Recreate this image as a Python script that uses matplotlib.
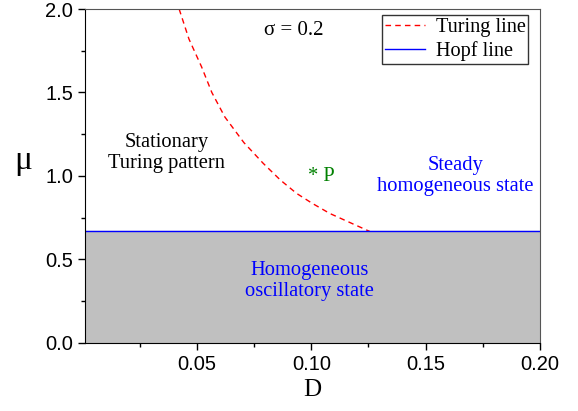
import matplotlib
matplotlib.use("Agg")
import matplotlib.pyplot as plt
from matplotlib.ticker import MultipleLocator

# Turing line
turing_D = [0.0422, 0.0465, 0.052, 0.0565, 0.0622, 0.0705, 0.079, 0.0865, 0.0936, 0.1005, 0.1081, 0.117, 0.1256]
turing_mu = [2.0, 1.82, 1.654, 1.5, 1.353, 1.2, 1.075, 0.975, 0.895, 0.835, 0.775, 0.72, 0.667]

# Hopf line (horizontal)
hopf_D = [0.001, 0.2]
hopf_mu = [0.667, 0.667]

point_P = (0.0985, 0.995)

serif = "Liberation Serif"
sans = "Liberation Sans"
fs = 14.8

fig, ax = plt.subplots(figsize=(5.78, 4.11), dpi=100)
fig.subplots_adjust(left=0.147, right=0.934, top=0.978, bottom=0.166)

ax.fill_between(hopf_D, 0, hopf_mu, color="#c0c0c0", zorder=0)
ax.plot(turing_D, turing_mu, "r--", lw=1.0, dashes=(4, 3), label="Turing line")
ax.plot(hopf_D, hopf_mu, color="blue", lw=1.0, label="Hopf line")

ax.set_xlim(0.001, 0.2)
ax.set_ylim(0, 2.0)
ax.xaxis.set_minor_locator(MultipleLocator(0.025))
ax.yaxis.set_major_locator(MultipleLocator(0.5))
ax.yaxis.set_minor_locator(MultipleLocator(0.25))
ax.set_xticks([0.05, 0.10, 0.15, 0.20])
ax.set_xticklabels(["0.05", "0.10", "0.15", "0.20"])
ax.tick_params(which="major", direction="out", length=5, width=1, labelsize=14.5)
ax.tick_params(which="minor", direction="out", length=3, width=1)
for lab in ax.get_xticklabels() + ax.get_yticklabels():
    lab.set_fontfamily(sans)
for s in ax.spines.values():
    s.set_color("#555555")
ax.spines["left"].set_color("black")
ax.spines["bottom"].set_color("black")

ax.set_xlabel("D", fontfamily=serif, fontsize=18, labelpad=4)
ax.set_ylabel("μ", fontfamily=serif, fontsize=24, rotation=0)
ax.yaxis.set_label_coords(-0.135, 0.5)

ax.text(0.0924, 1.873, "σ = 0.2", fontfamily=serif, fontsize=15, ha="center", va="center")
ax.text(0.0366, 1.137, "Stationary\nTuring pattern", fontfamily=serif, fontsize=fs,
        ha="center", va="center", linespacing=1.15)
ax.text(point_P[0], point_P[1], "* P", fontfamily=serif, fontsize=fs, color="green",
        ha="left", va="center")
ax.text(0.163, 1.0, "Steady\nhomogeneous state", fontfamily=serif, fontsize=fs,
        color="blue", ha="center", va="center", linespacing=1.15)
ax.text(0.0992, 0.37, "Homogeneous\noscillatory state", fontfamily=serif, fontsize=fs,
        color="blue", ha="center", va="center", linespacing=1.15)

leg = ax.legend(loc="upper right", bbox_to_anchor=(0.975, 0.982), prop={"family": serif, "size": 14.6},
                frameon=True, fancybox=False, edgecolor="black", borderpad=0.15,
                handlelength=2.0, handletextpad=0.5, labelspacing=0.2, borderaxespad=0)
leg.get_frame().set_linewidth(1.0)

fig.savefig("out.png", dpi=100)
